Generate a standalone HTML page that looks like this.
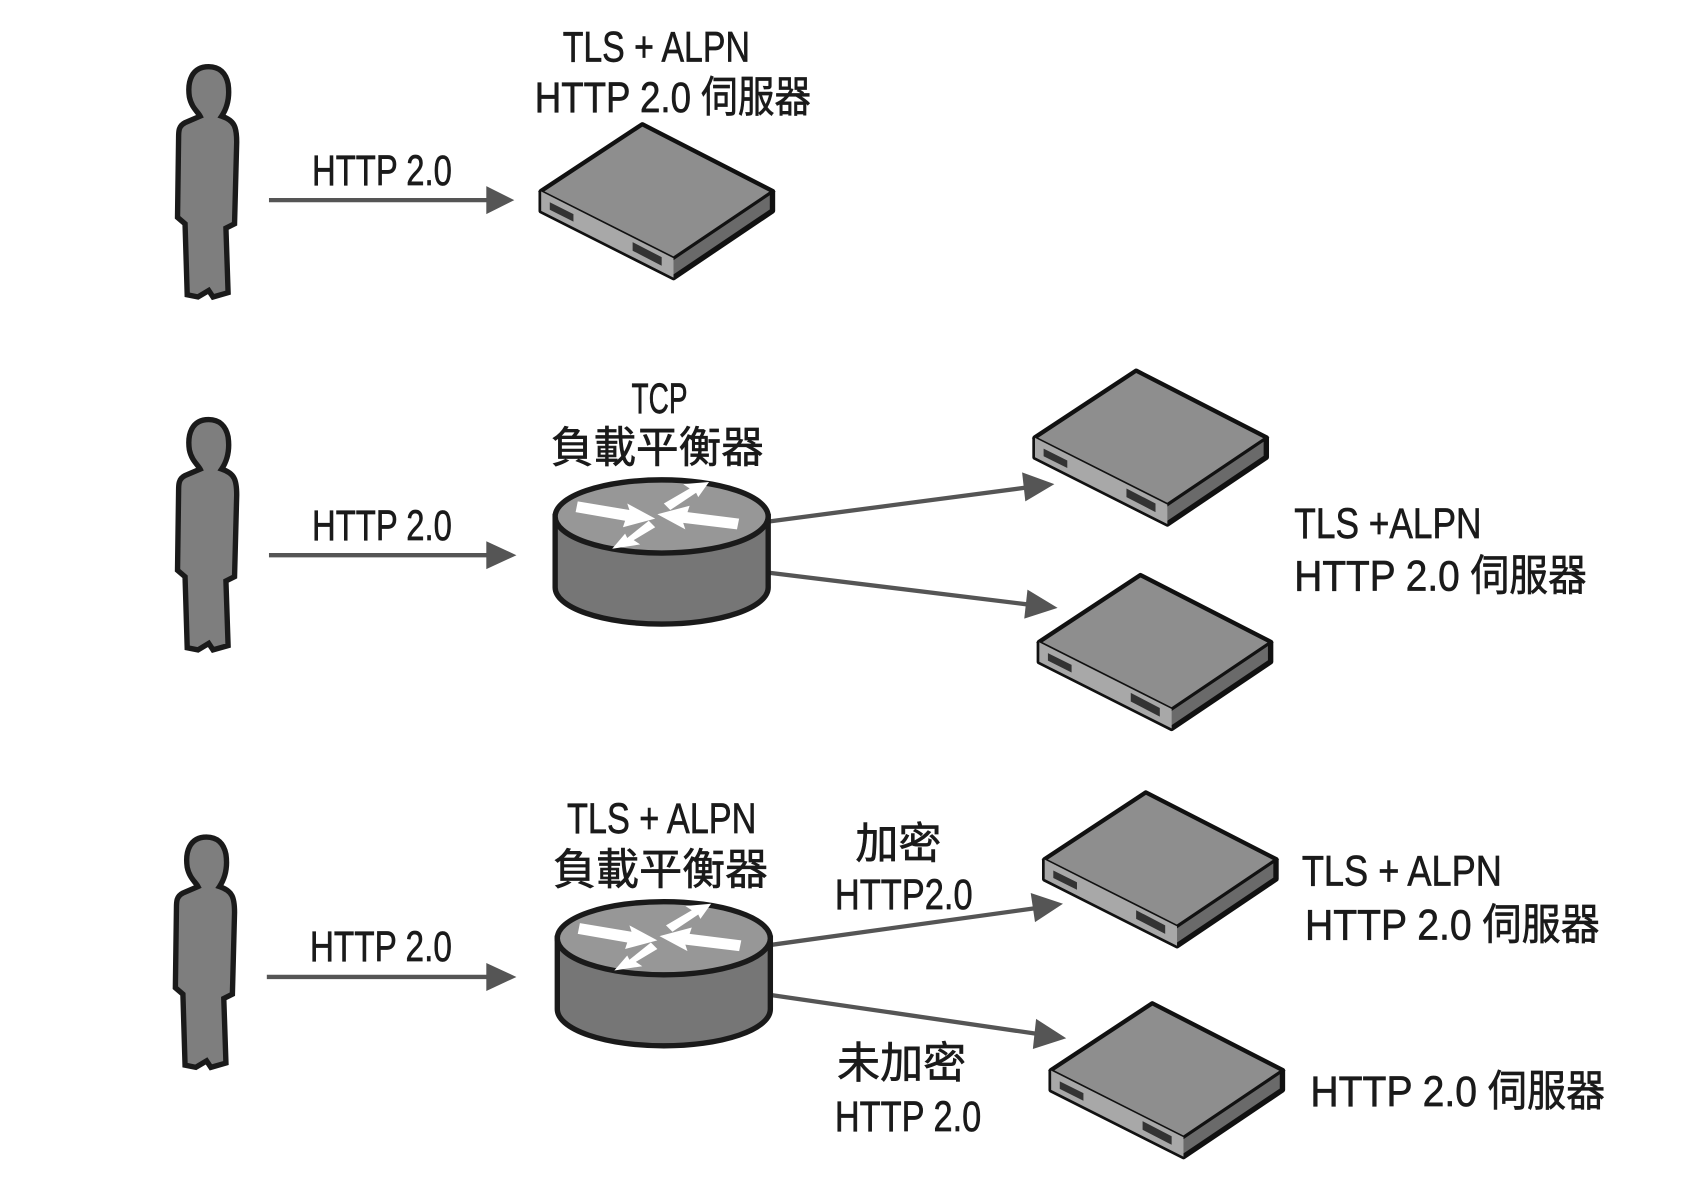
<!DOCTYPE html>
<html><head><meta charset="utf-8"><style>
html,body{margin:0;padding:0;background:#fff;}
svg{display:block;}
text{font-family:"Liberation Sans Narrow","Liberation Sans","Noto Sans CJK TC",sans-serif;fill:#1a1a1a;font-size:40px;stroke:#1a1a1a;stroke-width:0.6px;}
</style></head><body>
<svg width="1687" height="1190" viewBox="0 0 1568 1106" preserveAspectRatio="none" xmlns="http://www.w3.org/2000/svg">
<defs>
<g id="person">
<path d="M32 0 C16 0 12 14 14 28 C16 38 22 42 24 46 L10 52 C4 55 4 60 4 66 L3 140 L10 146 L12 212 L22 214 L32 208 L36 214 L50 210 L48 150 L56 146 L58 70 C58 56 56 50 44 46 C48 40 52 30 50 16 C48 6 42 0 32 0 Z" fill="#7e7e7e" stroke="#1a1a1a" stroke-width="5"/>
</g>
<g id="server">
<path d="M0 62 L94 0 L215 62 L215 80 L123 142 L0 80 Z" fill="#6a6a6a" stroke="#111" stroke-width="5" stroke-linejoin="round"/>
<path d="M0 62 L94 0 L215 62 L123 124 Z" fill="#8e8e8e" stroke="#111" stroke-width="3"/>
<path d="M0 62 L123 124 L123 142 L0 80 Z" fill="#a8a8a8"/>
<path d="M8 72 L30 83 L30 90 L8 79 Z M85 109 L112 123 L112 131 L85 117 Z" fill="#333"/>
</g>
<g id="router">
<path d="M-99 0 L-99 66 A99 34 0 0 0 99 66 L99 0 Z" fill="#767676" stroke="#1a1a1a" stroke-width="5"/>
<ellipse cx="0" cy="0" rx="99" ry="34" fill="#979797" stroke="#1a1a1a" stroke-width="5"/>
<path d="M-78 -14 L-30 -6 L-32 -12 L-6 2 L-36 10 L-34 4 L-80 -4 Z" fill="#fff"/>
<path d="M70 12 L20 6 L22 12 L-4 -2 L26 -10 L24 -4 L72 2 Z" fill="#fff"/>
<path d="M2 -12 L26 -26 L20 -30 L44 -32 L34 -18 L32 -22 L8 -6 Z" fill="#fff"/>
<path d="M-6 10 L-26 22 L-20 26 L-46 30 L-34 16 L-32 20 L-12 4 Z" fill="#fff"/>
</g>
</defs>

<use href="#person" x="162" y="62"/>
<use href="#person" x="162" y="390"/>
<use href="#person" x="160" y="778"/>

<g stroke="#555" stroke-width="4" fill="#555">
<line x1="250" y1="186" x2="455" y2="186"/><path d="M452 173 L478 186 L452 199 Z" stroke="none"/>
<line x1="250" y1="516" x2="455" y2="516"/><path d="M452 503 L480 516 L452 529 Z" stroke="none"/>
<line x1="248" y1="908" x2="455" y2="908"/><path d="M452 895 L480 908 L452 921 Z" stroke="none"/>
<line x1="712" y1="485" x2="955" y2="453"/><path d="M950 439 L980 450 L953 466 Z" stroke="none"/>
<line x1="712" y1="532" x2="957" y2="562"/><path d="M955 548 L983 565 L952 575 Z" stroke="none"/>
<line x1="718" y1="878" x2="963" y2="844"/><path d="M958 830 L988 840 L962 857 Z" stroke="none"/>
<line x1="718" y1="925" x2="965" y2="961"/><path d="M963 947 L991 965 L960 975 Z" stroke="none"/>
</g>

<use href="#server" x="503" y="116"/>
<use href="#server" x="962" y="345"/>
<use href="#server" x="966" y="535"/>
<use href="#server" x="971" y="737"/>
<use href="#server" x="977" y="933"/>

<use href="#router" x="615" y="480"/>
<use href="#router" x="617" y="872"/>

<text x="290" y="172" textLength="130" lengthAdjust="spacingAndGlyphs">HTTP 2.0</text>
<text x="290" y="502" textLength="130" lengthAdjust="spacingAndGlyphs">HTTP 2.0</text>
<text x="288" y="893" textLength="132" lengthAdjust="spacingAndGlyphs">HTTP 2.0</text>

<text x="523" y="57" textLength="174" lengthAdjust="spacingAndGlyphs">TLS + ALPN</text>
<text x="497" y="104" textLength="257" lengthAdjust="spacingAndGlyphs">HTTP 2.0 伺服器</text>

<text x="587" y="384" textLength="52" lengthAdjust="spacingAndGlyphs">TCP</text>
<text x="512" y="430" textLength="198" lengthAdjust="spacingAndGlyphs">負載平衡器</text>

<text x="1203" y="500" textLength="174" lengthAdjust="spacingAndGlyphs">TLS +ALPN</text>
<text x="1203" y="549" textLength="272" lengthAdjust="spacingAndGlyphs">HTTP 2.0 伺服器</text>

<text x="527" y="774" textLength="176" lengthAdjust="spacingAndGlyphs">TLS + ALPN</text>
<text x="514" y="822" textLength="200" lengthAdjust="spacingAndGlyphs">負載平衡器</text>

<text x="795" y="798" textLength="80" lengthAdjust="spacingAndGlyphs">加密</text>
<text x="776" y="845" textLength="128" lengthAdjust="spacingAndGlyphs">HTTP2.0</text>

<text x="1210" y="823" textLength="186" lengthAdjust="spacingAndGlyphs">TLS + ALPN</text>
<text x="1213" y="873" textLength="274" lengthAdjust="spacingAndGlyphs">HTTP 2.0 伺服器</text>

<text x="778" y="1002" textLength="120" lengthAdjust="spacingAndGlyphs">未加密</text>
<text x="776" y="1051" textLength="136" lengthAdjust="spacingAndGlyphs">HTTP 2.0</text>

<text x="1218" y="1028" textLength="274" lengthAdjust="spacingAndGlyphs">HTTP 2.0 伺服器</text>
</svg>
</body></html>
